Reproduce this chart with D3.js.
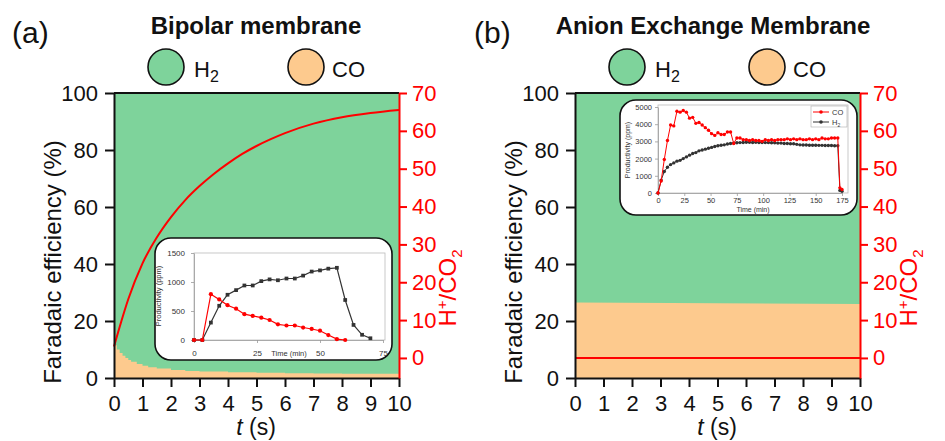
<!DOCTYPE html>
<html>
<head>
<meta charset="utf-8">
<script src="https://cdn.jsdelivr.net/npm/d3@7"></script>
<style>
  body { margin: 0; background: #fff; }
  svg { display: block; font-family: "Liberation Sans", Arial, sans-serif; }
</style>
</head>
<body>
<div id="chart"></div>
<script>
// ---- data ----
const tTicks = [0, 1, 2, 3, 4, 5, 6, 7, 8, 9, 10];
const feTicks = [0, 20, 40, 60, 80, 100];
const ratioTicks = [0, 10, 20, 30, 40, 50, 60, 70];

// (a) bipolar membrane: CO faradaic efficiency (%) vs t (s), rest is H2
const bpmTime = [0, 0.1, 0.2, 0.3, 0.4, 0.5, 0.6, 0.8, 1.0, 1.2, 1.5, 2, 2.5, 3, 4, 5, 6, 7, 8, 9, 10];
const bpmCO   = [11.5, 10, 8.8, 7.8, 7.0, 6.3, 5.7, 4.9, 4.3, 3.8, 3.3, 2.8, 2.5, 2.3, 2.0, 1.8, 1.7, 1.6, 1.5, 1.45, 1.4];
// H+/CO2 ratio
const bpmRatioTime = [0, 0.25, 0.5, 1, 1.5, 2, 2.5, 3, 3.5, 4, 4.5, 5, 5.5, 6, 7, 8, 9, 10];
const bpmRatio     = [3, 9.5, 15.5, 25, 31.8, 37.2, 41.7, 45.4, 48.6, 51.4, 53.9, 56.0, 57.8, 59.4, 61.9, 63.6, 64.7, 65.5];

// (b) anion exchange membrane
const aemTime  = [0, 10];
const aemCO    = [26.5, 26];
const aemRatio = [0, 0];

// inset (a): productivity (ppm) vs time (min)
const insAtime = [0, 3.3, 6.7, 10, 13.3, 16.7, 20, 23.3, 26.7, 30, 33.3, 36.7, 40, 43.3, 46.7, 50, 53.3, 56.7, 60, 63.3, 66.7, 70];
const insAH2   = [0, 0, 300, 590, 780, 860, 940, 940, 1015, 1045, 1030, 1060, 1060, 1110, 1180, 1200, 1230, 1245, 690, 260, 90, 30];
const insACOtime = [0, 3.3, 6.7, 10, 13.3, 16.7, 20, 23.3, 26.7, 30, 33.3, 36.7, 40, 43.3, 46.7, 50, 53.3, 56.7, 60];
const insACO     = [0, 0, 790, 700, 600, 540, 445, 415, 385, 345, 270, 250, 250, 215, 190, 160, 85, 15, 0];

// inset (b)
const insBtime = [0, 3, 6, 9, 12, 15, 18, 21, 24, 27, 30, 33, 36, 39, 42, 45, 48, 51, 54, 57,
  60, 63, 66, 69, 72, 75, 78, 81, 84, 87, 90, 93, 96, 99, 102, 105, 108, 111, 114, 117,
  120, 123, 126, 129, 132, 135, 138, 141, 144, 147, 150, 153, 156, 159, 162, 165, 168, 171, 173, 175];
const insBCO = [0, 700, 1950, 3050, 3950, 3900, 4750, 4700, 4800, 4700, 4350, 4400, 4050, 4100, 3950, 3800, 3650, 3450, 3350, 3500,
  3400, 3400, 3550, 3550, 2880, 3200, 3200, 3100, 3100, 3050, 3100, 3050, 3050, 3000, 3100, 3050, 3100, 3050, 3100, 3100,
  3100, 3150, 3100, 3150, 3100, 3150, 3100, 3100, 3150, 3100, 3150, 3100, 3200, 3150, 3150, 3200, 3200, 3200, 300, 200];
const insBH2 = [0, 750, 1250, 1500, 1650, 1750, 1850, 1900, 2000, 2100, 2200, 2300, 2350, 2450, 2500, 2550, 2600, 2650, 2700, 2750,
  2780, 2800, 2850, 2880, 2900, 2920, 2930, 2940, 2950, 2950, 2940, 2950, 2940, 2940, 2930, 2930, 2920, 2920, 2900, 2900,
  2880, 2880, 2860, 2860, 2830, 2800, 2790, 2790, 2780, 2780, 2780, 2770, 2770, 2760, 2760, 2760, 2750, 2750, 150, 100];

const GREEN = "#7ed39b", ORANGE = "#fdca8e", RED = "#ff0000", INK = "#111";

const svg = d3.select("#chart").append("svg")
  .attr("width", 945).attr("height", 441);

function styleAxis(sel, color, size) {
  sel.attr("font-family", null).attr("font-size", size);
  sel.selectAll("path, line").attr("stroke", color).attr("stroke-width", 2);
  sel.selectAll("text").attr("fill", color);
}

function panel(p) {
  const x = d3.scaleLinear().domain([0, 10]).range([p.left, p.left + 285]);
  const yFE = d3.scaleLinear().domain([0, 100]).range([378, 93]);
  const yR = d3.scaleLinear().domain([-5.3, 70]).range([378, 93]);
  const g = svg.append("g");

  const pts = p.time.map((t, i) => ({ t, co: p.co[i] }));
  // H2 on top of CO makes up the 100 %
  g.append("path").datum(pts).attr("fill", GREEN)
    .attr("d", d3.area().curve(p.curve).x(d => x(d.t)).y0(yFE(0)).y1(yFE(100)));
  g.append("path").datum(pts).attr("fill", ORANGE)
    .attr("d", d3.area().curve(p.curve).x(d => x(d.t)).y0(yFE(0)).y1(d => yFE(d.co)));

  // H+/CO2 curve
  const rp = p.ratioTime.map((t, i) => ({ t, r: p.ratio[i] }));
  g.append("path").datum(rp).attr("fill", "none").attr("stroke", RED).attr("stroke-width", 2)
    .attr("d", d3.line().curve(d3.curveMonotoneX).x(d => x(d.t)).y(d => yR(d.r)));

  // frame top
  g.append("line").attr("x1", x(0)).attr("x2", x(10)).attr("y1", yFE(100)).attr("y2", yFE(100))
    .attr("stroke", INK).attr("stroke-width", 2);

  g.append("g").attr("transform", "translate(0,378)")
    .call(d3.axisBottom(x).tickValues(tTicks).tickSize(9).tickPadding(8).tickSizeOuter(0))
    .call(s => styleAxis(s, INK, 22));
  g.append("g").attr("transform", `translate(${p.left},0)`)
    .call(d3.axisLeft(yFE).tickValues(feTicks).tickSize(9).tickPadding(7).tickSizeOuter(0))
    .call(s => styleAxis(s, INK, 22));
  g.append("g").attr("transform", `translate(${p.left + 285},0)`)
    .call(d3.axisRight(yR).tickValues(ratioTicks).tickSize(8).tickPadding(5).tickSizeOuter(0))
    .call(s => styleAxis(s, RED, 22));

  // axis titles
  g.append("text").attr("transform", `translate(${p.left - 53},262) rotate(-90)`)
    .attr("text-anchor", "middle").attr("font-size", 24).attr("fill", INK)
    .text("Faradaic efficiency (%)");
  const xt = g.append("text").attr("x", p.left + 142).attr("y", 435)
    .attr("text-anchor", "middle").attr("font-size", 23).attr("fill", INK);
  xt.append("tspan").attr("font-style", "italic").text("t");
  xt.append("tspan").text(" (s)");
  const rt = g.append("text").attr("transform", `translate(${p.left + 342},288) rotate(-90)`)
    .attr("text-anchor", "middle").attr("font-size", 24).attr("fill", RED);
  rt.append("tspan").text("H");
  rt.append("tspan").attr("font-size", 15).attr("dy", -9).text("+");
  rt.append("tspan").attr("dy", 9).text("/CO");
  rt.append("tspan").attr("font-size", 15).attr("dy", 6).text("2");

  // panel letter and title
  g.append("text").attr("x", p.letterX).attr("y", 43).attr("font-size", 30).attr("fill", INK).text(p.letter);
  g.append("text").attr("x", p.titleX).attr("y", 34).attr("text-anchor", "middle")
    .attr("font-size", 24).attr("font-weight", "bold").attr("fill", INK).text(p.title);

  // legend
  const lg = g.append("g");
  lg.append("circle").attr("cx", p.legX[0]).attr("cy", 67).attr("r", 18)
    .attr("fill", GREEN).attr("stroke", INK).attr("stroke-width", 1.6);
  lg.append("circle").attr("cx", p.legX[1]).attr("cy", 67).attr("r", 18)
    .attr("fill", ORANGE).attr("stroke", INK).attr("stroke-width", 1.6);
  const h = lg.append("text").attr("x", p.legX[0] + 28).attr("y", 77).attr("font-size", 22).attr("fill", INK);
  h.append("tspan").text("H");
  h.append("tspan").attr("font-size", 16).attr("dy", 5).text("2");
  lg.append("text").attr("x", p.legX[1] + 26).attr("y", 77).attr("font-size", 22).attr("fill", INK).text("CO");
}

function inset(o) {
  const g = svg.append("g");
  g.append("rect").attr("x", o.box[0]).attr("y", o.box[1]).attr("width", o.box[2]).attr("height", o.box[3])
    .attr("rx", 16).attr("fill", "#fff").attr("stroke", INK).attr("stroke-width", 1.6);
  const x = d3.scaleLinear().domain(o.xDomain).range(o.xRange);
  const y = d3.scaleLinear().domain(o.yDomain).range(o.yRange);

  g.append("rect").attr("x", o.xRange[0]).attr("y", o.frameTop)
    .attr("width", o.frameRight - o.xRange[0]).attr("height", o.yRange[0] - o.frameTop)
    .attr("fill", "none").attr("stroke", "#bbb").attr("stroke-width", 0.8);

  const fs = o.font;
  const ax = g.append("g").attr("transform", `translate(0,${o.yRange[0]})`)
    .call(d3.axisBottom(x).tickValues(o.xTicks).tickFormat(d3.format("d"))
      .tickSize(3).tickPadding(o.xPad).tickSizeOuter(0));
  const ay = g.append("g").attr("transform", `translate(${o.xRange[0]},0)`)
    .call(d3.axisLeft(y).tickValues(o.yTicks).tickFormat(d3.format("d"))
      .tickSize(3).tickPadding(o.yPad).tickSizeOuter(0));
  [ax, ay].forEach(s => {
    s.attr("font-family", null).attr("font-size", fs);
    s.selectAll("path, line").attr("stroke", "#999").attr("stroke-width", 0.8);
    s.selectAll("text").attr("fill", "#333");
  });

  o.series.forEach(s => {
    const pts = s.t.map((t, i) => [x(t), y(s.v[i])]);
    g.append("path").datum(pts).attr("fill", "none").attr("stroke", s.color)
      .attr("stroke-width", o.lw).attr("d", d3.line());
    g.append("g").selectAll("path").data(pts).join("path")
      .attr("transform", d => `translate(${d[0]},${d[1]})`)
      .attr("fill", s.color)
      .attr("d", d3.symbol().type(s.symbol).size(o.markSize));
  });

  g.append("text").attr("x", o.timeLabel[0]).attr("y", o.timeLabel[1]).attr("text-anchor", "middle")
    .attr("font-size", o.labelFont).attr("fill", "#333").text("Time (min)");
  g.append("text").attr("transform", `translate(${o.prodLabel[0]},${o.prodLabel[1]}) rotate(-90)`)
    .attr("text-anchor", "middle").attr("font-size", o.labelFont).attr("fill", "#333")
    .text("Productivity (ppm)");
  return g;
}

panel({
  left: 114, letter: "(a)", letterX: 12, title: "Bipolar membrane", titleX: 256,
  legX: [166, 306], time: bpmTime, co: bpmCO, curve: d3.curveStepAfter,
  ratioTime: bpmRatioTime, ratio: bpmRatio
});
panel({
  left: 575, letter: "(b)", letterX: 474, title: "Anion Exchange Membrane", titleX: 713,
  legX: [627, 767], time: aemTime, co: aemCO, curve: d3.curveLinear,
  ratioTime: aemTime, ratio: aemRatio
});

inset({
  box: [155, 238, 237, 122], xDomain: [0, 75], xRange: [194, 383], yDomain: [0, 1500], yRange: [340, 253],
  frameTop: 253, frameRight: 385, xTicks: [0, 25, 50, 75], yTicks: [0, 500, 1000, 1500],
  xPad: 7, yPad: 6, font: 8, labelFont: 7.5, lw: 1.2, markSize: 14,
  series: [
    { t: insAtime, v: insAH2, color: "#333", symbol: d3.symbolSquare },
    { t: insACOtime, v: insACO, color: RED, symbol: d3.symbolCircle }
  ],
  timeLabel: [289, 356], prodLabel: [161, 296]
});

const ib = inset({
  box: [620, 100, 237, 115], xDomain: [0, 175], xRange: [658, 842], yDomain: [0, 5000], yRange: [193, 107],
  frameTop: 105, frameRight: 848, xTicks: [0, 25, 50, 75, 100, 125, 150, 175], yTicks: [0, 1000, 2000, 3000, 4000, 5000],
  xPad: 2, yPad: 3, font: 7.5, labelFont: 7, lw: 1, markSize: 9,
  series: [
    { t: insBtime, v: insBH2, color: "#333", symbol: d3.symbolCircle },
    { t: insBtime, v: insBCO, color: RED, symbol: d3.symbolCircle }
  ],
  timeLabel: [753, 212], prodLabel: [630, 150]
});

// inset (b) legend
const leg = ib.append("g");
leg.append("rect").attr("x", 811).attr("y", 106).attr("width", 36).attr("height", 21)
  .attr("fill", "#fff").attr("stroke", "#aaa").attr("stroke-width", 0.6);
[{ c: RED, y: 112, label: "CO" }, { c: "#333", y: 122, label: "H" }].forEach(e => {
  leg.append("line").attr("x1", 813).attr("x2", 829).attr("y1", e.y).attr("y2", e.y)
    .attr("stroke", e.c).attr("stroke-width", 1);
  leg.append("circle").attr("cx", 821).attr("cy", e.y).attr("r", 1.8).attr("fill", e.c);
  const t = leg.append("text").attr("x", 832).attr("y", e.y + 2.8).attr("font-size", 7.5).attr("fill", "#333").text(e.label);
  if (e.label === "H") t.append("tspan").attr("font-size", 5).attr("dy", 2).text("2");
});
</script>
</body>
</html>
